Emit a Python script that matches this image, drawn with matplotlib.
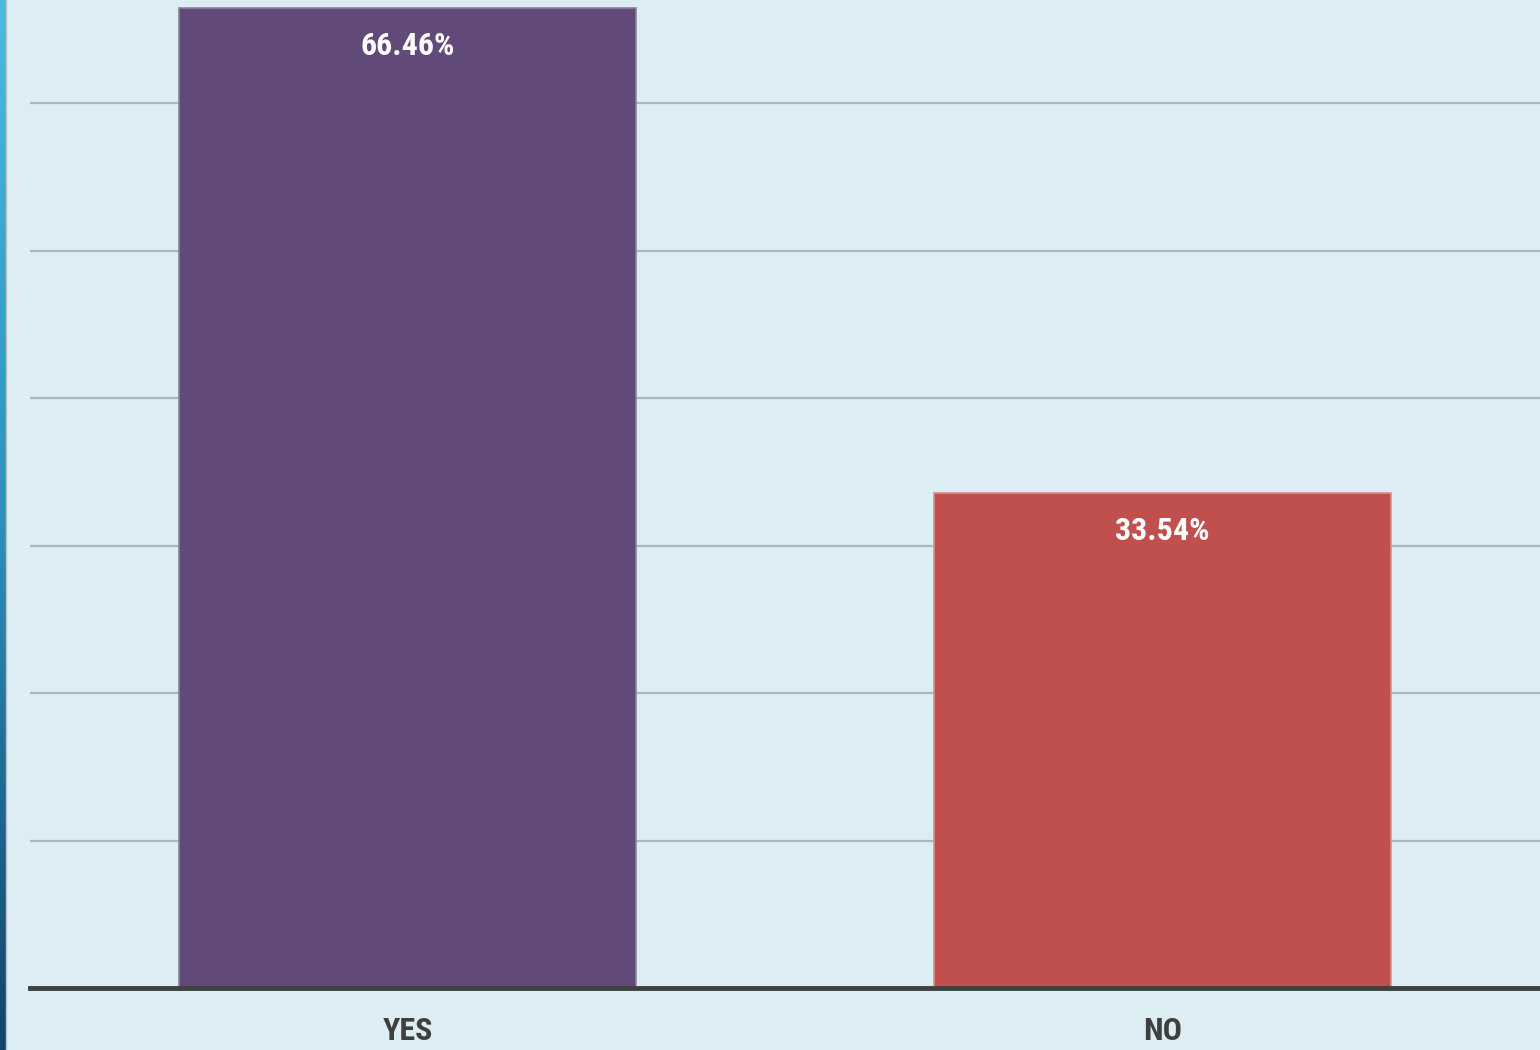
import numpy as np
import matplotlib.pyplot as plt
from matplotlib import font_manager
from matplotlib.colors import LinearSegmentedColormap

# pick a narrow font if one is installed, else Roboto
names = {f.name for f in font_manager.fontManager.ttflist}
font = 'Roboto'
size = 21
for cand in ['Liberation Sans Narrow', 'Roboto Condensed', 'Open Sans Condensed', 'DejaVu Sans Condensed']:
    if cand in names:
        font = cand
        size = 23
        break
plt.rcParams['font.family'] = [font, 'DejaVu Sans']

categories = ['YES', 'NO']
values = [66.46, 33.54]
bar_colors = ['#614A7A', '#C0504D']
edge_colors = ['#8E80A6', '#D98F8D']

bg = '#DCEEF3'
fig = plt.figure(figsize=(15.4, 10.5), dpi=100, facecolor=bg)

# left gradient strip
strip = fig.add_axes([0, 0, 6 / 1540, 1])
cmap = LinearSegmentedColormap.from_list('strip', ['#46BEDA', '#2F8FB8', '#13436B'])
strip.imshow(np.linspace(0, 1, 256).reshape(-1, 1), aspect='auto', cmap=cmap)
strip.axis('off')
fig.add_artist(plt.Line2D([6.5 / 1540, 6.5 / 1540], [0, 1], color='#B8C4CA', lw=1.0))

ax = fig.add_axes([30 / 1540, 62 / 1050, 1510 / 1540, 988 / 1050])
ax.set_facecolor(bg)
x = np.arange(len(categories))
bars = ax.bar(x, values, width=0.605, color=bar_colors, edgecolor=edge_colors,
              linewidth=1.2, zorder=3)
ax.set_xlim(-0.5, 1.5)
ax.set_ylim(0, 67.0)
ax.set_yticks(np.arange(10, 70, 10))
ax.yaxis.grid(True, color='#A9B8BF', lw=1.6, zorder=0)
ax.tick_params(axis='y', length=0, labelleft=False)
ax.tick_params(axis='x', length=0, pad=20, labelsize=size, labelcolor='#3F3F3F')
ax.set_xticks(x)
ax.set_xticklabels(categories, fontweight='bold')
for s in ['top', 'right', 'left']:
    ax.spines[s].set_visible(False)
ax.spines['bottom'].set_color('#404040')
ax.spines['bottom'].set_linewidth(3.5)
ax.spines['bottom'].set_zorder(4)

for b, v in zip(bars, values):
    ax.annotate(f'{v:.2f}%', (b.get_x() + b.get_width() / 2, v),
                xytext=(0, -38), textcoords='offset pixels',
                ha='center', va='center', color='white',
                fontsize=size, fontweight='bold', zorder=5)

fig.savefig('out.png', dpi=100, facecolor=bg)
